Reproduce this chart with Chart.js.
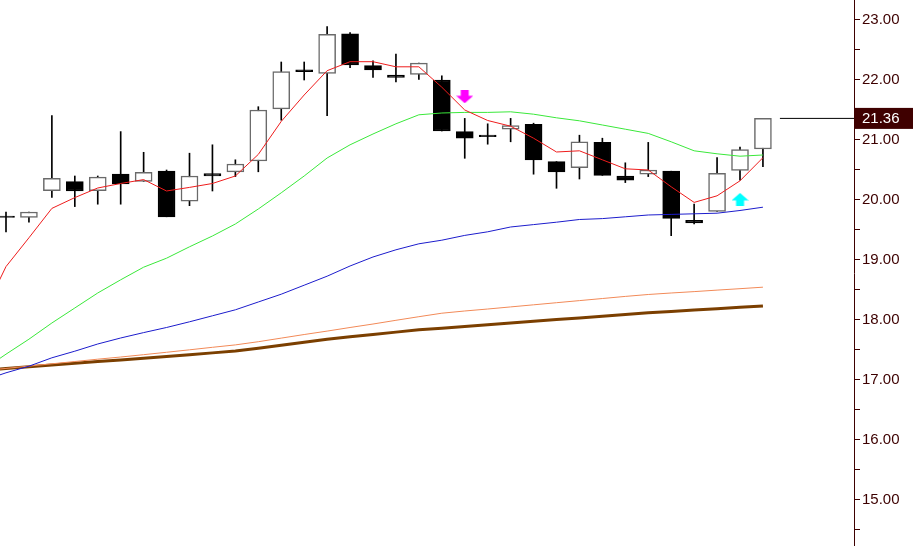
<!DOCTYPE html>
<html><head><meta charset="utf-8">
<script src="https://cdn.jsdelivr.net/npm/chart.js@4.4.1/dist/chart.umd.min.js"></script>
<style>html,body{margin:0;padding:0;background:#fff;overflow:hidden}canvas{display:block}</style>
</head><body>
<canvas id="c" width="913" height="546"></canvas>
<script>
// ---- data ----
const candleIndex = [1,2,3,4,5,6,7,8,9,10,11,12,13,14,15,16,17,18,19,20,21,22,23,24,25,26,27,28,29,30,31,32,33,34];
const opens  = [19.73,19.71,20.155,20.305,20.155,20.43,20.31,20.48,19.98,20.44,20.47,20.65,21.52,22.17,22.11,22.77,22.24,22.08,22.095,22.00,21.14,21.08,21.18,21.26,20.64,20.54,20.96,20.40,20.43,20.48,19.66,19.81,20.495,20.85];
const highs  = [19.80,19.80,21.405,20.40,20.40,21.14,20.795,20.50,20.78,20.92,20.67,21.555,22.30,22.30,22.89,22.79,22.32,22.43,22.28,22.07,21.36,21.27,21.36,21.28,20.64,21.08,21.03,20.62,20.96,20.48,19.93,20.705,20.88,21.36];
const lows   = [19.47,19.63,20.045,19.89,19.93,19.93,20.31,19.72,19.905,20.15,20.39,20.47,21.33,22.00,21.405,22.205,22.045,21.97,22.01,21.15,20.695,20.93,20.97,20.43,20.195,20.35,20.41,20.29,20.39,19.405,19.60,19.81,20.33,20.555];
const closes = [19.71,19.80,20.36,20.15,20.38,20.27,20.46,19.72,20.40,20.40,20.60,21.50,22.14,22.14,22.76,22.25,22.17,22.045,22.28,21.15,21.03,21.055,21.24,20.67,20.47,20.97,20.41,20.33,20.50,19.695,19.62,20.445,20.84,21.36];

const maIndex = [0,1,2,3,4,5,6,7,8,9,10,11,12,13,14,15,16,17,18,19,20,21,22,23,24,25,26,27,28,29,30,31,32,33,34];
const maRed    = [18.1,18.89,19.37,19.86,20.04,20.2,20.275,20.34,20.15,20.21,20.275,20.4,20.76,21.31,21.75,22.155,22.305,22.305,22.22,22.22,21.88,21.5,21.325,21.23,21.03,20.8,20.82,20.67,20.52,20.5,20.22,19.96,20.07,20.32,20.705];
const maGreen  = [17.17,17.43,17.68,17.95,18.2,18.45,18.67,18.88,19.03,19.22,19.4,19.6,19.85,20.12,20.4,20.7,20.92,21.1,21.27,21.42,21.45,21.46,21.46,21.47,21.43,21.37,21.32,21.25,21.18,21.11,20.97,20.82,20.77,20.73,20.75];
const maBlue   = [16.99,17.12,17.23,17.37,17.48,17.6,17.7,17.79,17.875,17.97,18.07,18.17,18.3,18.43,18.58,18.73,18.9,19.05,19.17,19.27,19.33,19.41,19.47,19.55,19.59,19.63,19.675,19.69,19.72,19.75,19.76,19.77,19.78,19.825,19.88];
const maOrange = [17.155,17.193,17.232,17.27,17.308,17.347,17.383,17.422,17.462,17.503,17.545,17.585,17.638,17.698,17.758,17.815,17.875,17.933,17.995,18.055,18.113,18.15,18.183,18.218,18.253,18.288,18.323,18.358,18.393,18.425,18.45,18.473,18.498,18.522,18.547];
const maBrown  = [17.16,17.19,17.22,17.25,17.28,17.31,17.333,17.363,17.392,17.422,17.452,17.482,17.528,17.58,17.63,17.68,17.722,17.76,17.798,17.837,17.863,17.892,17.92,17.95,17.978,18.007,18.035,18.063,18.093,18.12,18.143,18.167,18.188,18.212,18.235];

const sellSignalIndex = [21];
const sellSignalValue = [21.72];
const buySignalIndex  = [33];
const buySignalValue  = [20.01];

const lastPrice = 21.36;
const lastPriceLabel = '21.36';
const yTickLabels = ['15.00','16.00','17.00','18.00','19.00','20.00','21.00','22.00','23.00'];

// ---- build ----
const AXIS_COLOR = '#3d0000';
function arrowImage(color, down) {
  const c = document.createElement('canvas');
  c.width = 17; c.height = 13;
  const g = c.getContext('2d');
  g.fillStyle = color;
  if (down) {
    g.fillRect(4.5, 0, 8, 6);
    g.beginPath(); g.moveTo(0, 5.5); g.lineTo(17, 5.5); g.lineTo(8.5, 13); g.closePath(); g.fill();
  } else {
    g.fillRect(4.5, 7, 8, 6);
    g.beginPath(); g.moveTo(0, 7.5); g.lineTo(17, 7.5); g.lineTo(8.5, 0); g.closePath(); g.fill();
  }
  return c;
}

const bodies = candleIndex.map((x, i) => ({x, y: [opens[i], closes[i]]}));
const wicks  = candleIndex.map((x, i) => ({x, y: [lows[i], highs[i]]}));
const isUp = i => closes[i] >= opens[i];
const ma = arr => maIndex.map((x, i) => ({x, y: arr[i]}));
const lastIdx = candleIndex[candleIndex.length - 1];
const xMin = 0.7385, xMax = 37.97;

const lineDs = (label, arr, color, w, order) => ({
  type: 'line', label, data: ma(arr), borderColor: color, borderWidth: w,
  pointRadius: 0, tension: 0, fill: false, order, borderJoinStyle: 'round'
});

const priceLabelPlugin = {
  id: 'priceLabel',
  afterDraw(chart) {
    const y = chart.scales.y;
    const ctx = chart.ctx;
    const py = y.getPixelForValue(lastPrice);
    ctx.save();
    ctx.fillStyle = '#3f0000';
    ctx.fillRect(chart.chartArea.right, py - 10.5, chart.width - chart.chartArea.right, 21);
    ctx.fillStyle = '#ffffff';
    ctx.font = '15px "Liberation Sans", Arial, sans-serif';
    ctx.textBaseline = 'middle';
    ctx.textAlign = 'left';
    ctx.fillText(lastPriceLabel, chart.chartArea.right + 8, py + 0.5);
    ctx.restore();
  }
};

new Chart(document.getElementById('c'), {
  data: {
    datasets: [
      { type: 'scatter', label: 'sell', data: sellSignalIndex.map((x, i) => ({x, y: sellSignalValue[i]})),
        pointStyle: arrowImage('#ff00ff', true), order: 0 },
      { type: 'scatter', label: 'buy', data: buySignalIndex.map((x, i) => ({x, y: buySignalValue[i]})),
        pointStyle: arrowImage('#00ffff', false), order: 0 },
      lineDs('ma1', maRed, '#ee1c1c', 1, 1),
      lineDs('ma2', maGreen, '#3ae83a', 1, 2),
      lineDs('ma3', maBlue, '#1c1ccc', 1, 3),
      lineDs('ma4', maOrange, '#f28a58', 1, 4),
      lineDs('ma5', maBrown, '#7b3f00', 3, 5),
      { type: 'line', label: 'last', data: [{x: lastIdx + 0.74, y: lastPrice}, {x: xMax, y: lastPrice}],
        borderColor: '#000', borderWidth: 1, pointRadius: 0, order: 6 },
      { type: 'bar', label: 'body', data: bodies, grouped: false, barThickness: 17,
        backgroundColor: ctx => isUp(ctx.dataIndex) ? '#ffffff' : '#000000',
        borderColor: ctx => isUp(ctx.dataIndex) ? '#6a6a6a' : '#000000',
        borderWidth: 1.5, borderSkipped: false, order: 7 },
      { type: 'bar', label: 'wick', data: wicks, grouped: false, barThickness: 1,
        backgroundColor: '#000000', borderWidth: 0, order: 8 }
    ]
  },
  options: {
    responsive: false, animation: false, events: [],
    layout: { padding: 0, autoPadding: false },
    plugins: { legend: { display: false }, tooltip: { enabled: false } },
    scales: {
      x: { type: 'linear', min: xMin, max: xMax, display: false, offset: false },
      y: {
        position: 'right', min: 14.2333, max: 23.3333,
        afterFit: s => { s.width = 59; s.paddingTop = 0; s.paddingBottom = 0; },
        border: { display: true, color: AXIS_COLOR, width: 1 },
        grid: { drawOnChartArea: false, drawTicks: true, tickLength: 6, color: AXIS_COLOR },
        ticks: {
          stepSize: 0.5, includeBounds: false, padding: 2, color: AXIS_COLOR,
          font: { family: '"Liberation Sans", Arial, sans-serif', size: 15 },
          callback: v => {
            const r = Math.round(v);
            if (Math.abs(v - r) > 1e-6) return '';
            const s = r.toFixed(2);
            return yTickLabels.includes(s) ? s : '';
          }
        }
      }
    }
  },
  plugins: [priceLabelPlugin]
});
</script>
</body></html>
